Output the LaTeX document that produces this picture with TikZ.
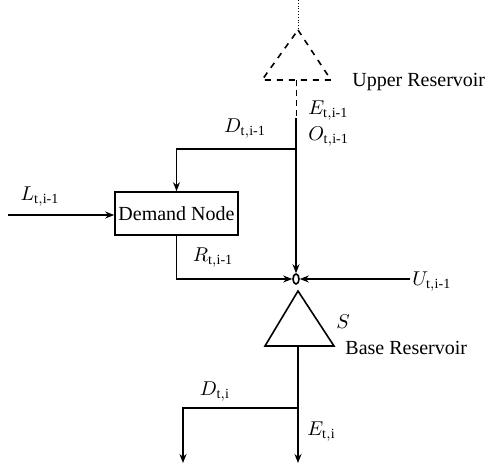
\documentclass[tikz,border=0pt]{standalone}
\usepackage{amsmath,amssymb}
\usepackage{fontspec}
\setmainfont{Liberation Serif}
\usepackage{tikz}
\usetikzlibrary{arrows.meta,shapes.geometric}

\tikzset{flow/.style={thick,-{Stealth[length=4.5pt,width=3.5pt]}},
  lab/.style={inner sep=1pt}}

\begin{document}
\begin{tikzpicture}[x=.5pt,y=-.5pt]
    \useasboundingbox (0,0) rectangle (490,465);
    % upper reservoir
    \coordinate (ua) at (298,30);
    \coordinate (ul) at (262,80);
    \coordinate (ur) at (331,80);
    \coordinate (ub) at (296,80);
    \coordinate (utop) at (298,0);
    \draw[thick,dashed] (ua) -- (ur) -- (ul) -- cycle;
    \draw[densely dotted] (utop) -- (ua);
    \node[lab,anchor=west] (uname) at (350,82) {Upper\ Reservoir};
    % nodes
    \node[draw,thick,minimum width=61.5pt,minimum height=21.5pt,inner sep=0pt] (dem) at (176.5,213.5) {Demand\ Node};
    \node[draw,thick,ellipse,minimum width=3pt,minimum height=5pt,inner sep=0pt] (jn) at (296,279) {};
    % base reservoir
    \coordinate (ba) at (298,291);
    \coordinate (bl) at (265,346);
    \coordinate (br) at (334,346);
    \coordinate (bb) at (298,346);
    \draw[thick] (ba) -- (br) -- (bl) -- cycle;
    \node[lab] (s) at (343,322) {$S$};
    \node[lab,anchor=west] (bname) at (343,348) {Base\ Reservoir};
    % flows into the junction
    \coordinate (um) at (296,118);
    \coordinate (dt) at (296,149);
    \draw[densely dashed] (ub) -- (um);
    \draw[flow] (um) -- (jn.north);
    \draw[flow] (dt) -| (dem.north);
    \coordinate (lin) at (8,215);
    \draw[flow] (lin) -- (dem.west |- lin);
    \draw[flow] (dem.south) |- (jn.west);
    \coordinate (uin) at (410,279);
    \draw[flow] (uin) -- (jn.east);
    % outflows
    \coordinate (bj) at (298,408);
    \coordinate (eout) at (298,463);
    \coordinate (dout) at (183,463);
    \draw[flow] (bb) -- (eout);
    \draw[flow] (bj) -| (dout);
    % labels
    \node[lab,anchor=west] at (306,111) {$E_{\mathrm{t,i\text{-}1}}$};
    \node[lab,anchor=west] at (306,137) {$O_{\mathrm{t,i\text{-}1}}$};
    \node[lab] at (245,129) {$D_{\mathrm{t,i\text{-}1}}$};
    \node[lab] at (40,197) {$L_{\mathrm{t,i\text{-}1}}$};
    \node[lab] at (213,258) {$R_{\mathrm{t,i\text{-}1}}$};
    \node[lab,anchor=west] at (410,282) {$U_{\mathrm{t,i\text{-}1}}$};
    \node[lab] at (215,392) {$D_{\mathrm{t,i}}$};
    \node[lab,anchor=west] at (305,432) {$E_{\mathrm{t,i}}$};
  \end{tikzpicture}
\end{document}
